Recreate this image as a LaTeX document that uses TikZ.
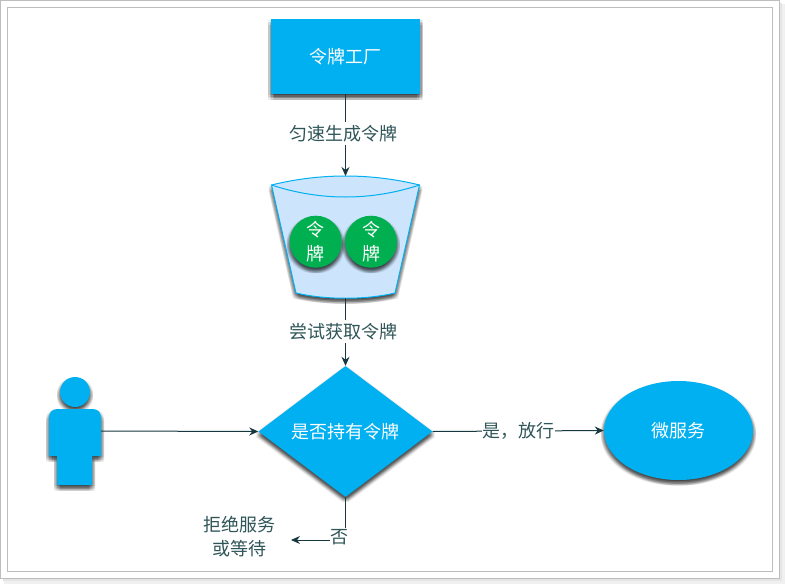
\documentclass[tikz,border=0pt]{standalone}
\usepackage{fontspec}
\setmainfont{Noto Sans CJK SC}
\usetikzlibrary{shapes.geometric,arrows.meta,shadows}
\definecolor{skyblue}{HTML}{00B0F0}
\definecolor{leaf}{HTML}{00B050}
\definecolor{bucketfill}{HTML}{CDE5FC}
\definecolor{linecol}{HTML}{17383F}
\definecolor{labelcol}{HTML}{2F5558}
\definecolor{framecol}{HTML}{BDBDBD}
\tikzset{
  shadowrow/.style={
    general shadow={shadow xshift=-3pt,shadow yshift=#1,fill=black,opacity=.06},
    general shadow={shadow xshift=-1.5pt,shadow yshift=#1,fill=black,opacity=.06},
    general shadow={shadow xshift=0pt,shadow yshift=#1,fill=black,opacity=.06},
    general shadow={shadow xshift=1.5pt,shadow yshift=#1,fill=black,opacity=.06},
    general shadow={shadow xshift=3pt,shadow yshift=#1,fill=black,opacity=.06}},
  softshadow/.style={shadowrow=-1pt,shadowrow=-2.5pt,shadowrow=-4pt,shadowrow=-5.5pt},
  txt/.style={font=\fontsize{18}{24}\selectfont,inner sep=0pt,align=center},
  lighttxt/.style={txt,text=white},
  darktxt/.style={txt,text=labelcol},
  labeltxt/.style={darktxt,fill=white,inner xsep=0.5pt,inner ysep=3pt},
  factorybox/.style={rectangle,fill=skyblue,softshadow,minimum width=149pt,minimum height=75pt,lighttxt},
  token/.style={circle,fill=leaf,softshadow,minimum size=52pt,lighttxt},
  decision/.style={diamond,aspect=1.33,fill=skyblue,softshadow,minimum width=174pt,minimum height=131pt,lighttxt},
  service/.style={ellipse,fill=skyblue,softshadow,minimum width=149pt,minimum height=99pt,lighttxt},
  link/.style={draw=linecol,line width=1pt},
  arrowlink/.style={link,-{Stealth[length=9pt,width=8pt]}},
  bluefill/.style={fill=skyblue}
}
\begin{document}
\begin{tikzpicture}[x=1pt,y=-1pt]
\useasboundingbox (0,0) rectangle (785,584);
% frame
\fill[black!6] (4,4) rectangle (785,584);
\fill[black!10] (3,3) rectangle (782,581);
\filldraw[fill=white,draw=framecol,line width=1pt] (0.5,0.5) rectangle (779,578);
\draw[framecol,line width=1pt] (7.5,7.5) rectangle (772,571);
% bucket
\draw[fill=bucketfill,draw=skyblue,line width=1pt,softshadow]
  (271.5,185) .. controls (320,173) and (371,173) .. (419.5,185)
  -- (395,293) .. controls (366,300) and (325,300) .. (296,293) -- cycle;
\draw[skyblue,line width=1pt]
  (271.5,185) .. controls (320,201) and (371,201) .. (419.5,185);
\coordinate (buckettop) at (345.5,176);
\coordinate (bucketbottom) at (345.5,298);
% nodes
\node[factorybox] (factory) at (345.5,56.5) {令牌工厂};
\node[token] (tokenA) at (315.7,241.7) {令\\牌};
\node[token] (tokenB) at (371,241.7) {令\\牌};
\node[decision] (check) at (345.5,431.5) {是否持有令牌};
\node[service] (micro) at (678.5,430.5) {微服务};
\node[darktxt] (refuse) at (239,537) {拒绝服务\\或等待};
% person
\fill[bluefill,softshadow] (75,392) circle (15);
\fill[bluefill,softshadow,rounded corners=8pt] (49,456) -- (49,409) -- (101,409) [sharp corners] -- (101,456) -- (92,456) -- (92,485) -- (57,485) -- (57,456) -- cycle;
\coordinate (personright) at (101,431);
% connectors
\draw[arrowlink] (factory.south) -- node[labeltxt,pos=.48,xshift=-2pt] (labelA) {匀速生成令牌} (buckettop);
\draw[arrowlink] (bucketbottom) -- node[labeltxt,pos=.49,xshift=-2pt] (labelB) {尝试获取令牌} (check.north);
\draw[arrowlink] (personright) -- (check.west);
\draw[arrowlink] (check.east) -- node[labeltxt,pos=.49,xshift=2pt] (labelC) {是，放行} (micro.west);
\coordinate (bend) at (345.5,540);
\coordinate (refuseend) at (291,540);
\draw[arrowlink] (check.south) -- (bend) -- (refuseend);
\node[labeltxt,inner xsep=0pt,inner ysep=1pt] (labelD) at (339,537) {否};
\end{tikzpicture}
\end{document}
